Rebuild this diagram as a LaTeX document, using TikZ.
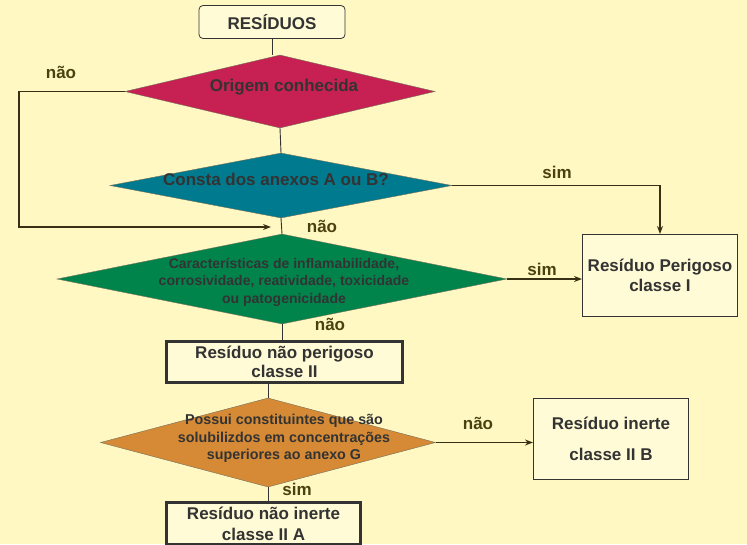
\documentclass[tikz,border=0pt]{standalone}
\usepackage{fontspec}
\setmainfont{Liberation Sans}
\usetikzlibrary{shapes.geometric,arrows.meta}
\definecolor{fundo}{RGB}{255,248,194}
\definecolor{creme}{RGB}{255,251,214}
\definecolor{texto}{RGB}{51,51,51}
\definecolor{linha}{RGB}{55,48,20}
\definecolor{rotulo}{RGB}{75,65,15}
\definecolor{carmim}{RGB}{198,33,82}
\definecolor{petroleo}{RGB}{0,122,142}
\definecolor{verdeesc}{RGB}{0,132,76}
\definecolor{laranja}{RGB}{214,138,53}
% texto dentro dos losangos, sem alterar o tamanho do losango
\newcommand{\dtexto}[3]{\makebox[0pt]{\hspace*{#1}\hspace*{#1}\smash{\raisebox{#2}{\begin{tabular}{@{}c@{}}#3\end{tabular}}}}}
\begin{document}
\begin{tikzpicture}[x=1pt, y=-1pt, >={Stealth[length=8pt,width=6pt]}, text=texto,
  fluxo/.style={draw=linha, line width=1.1pt},
  fino/.style={draw=texto, line width=0.9pt},
  losango/.style={diamond, inner sep=0pt, draw=linha!70, line width=0.4pt},
  caixa/.style={rectangle, draw=texto, line width=1pt, fill=creme, align=center, inner sep=0pt, font=\fontsize{17}{20}\selectfont\bfseries},
  caixagrossa/.style={caixa, line width=3pt},
  rot/.style={text=rotulo, font=\fontsize{17}{20}\selectfont\bfseries}]

% Fundo
\fill[fundo] (0,0) rectangle (747,544);
\useasboundingbox (0,0) rectangle (747,544);

% Início
\node[caixa, rounded corners=4pt, line width=0.8pt, minimum width=146pt, minimum height=33pt,
  font=\fontsize{17}{20}\selectfont\bfseries] (res) at (272,22) {RESÍDUOS};

% Losangos de decisão
\node[losango, fill=carmim, minimum width=310pt, minimum height=73pt,
  font=\fontsize{17}{20}\selectfont\bfseries] (orig) at (280,91.5) {\dtexto{4pt}{0pt}{Origem conhecida}};
\node[losango, fill=petroleo, minimum width=342pt, minimum height=65pt,
  font=\fontsize{17}{20}\selectfont\bfseries] (anex) at (281,185.5) {\dtexto{-5pt}{0pt}{Consta dos anexos A ou B?}};
\node[losango, fill=verdeesc, minimum width=450pt, minimum height=90pt,
  font=\fontsize{14}{17.5}\selectfont\bfseries] (carac) at (282,279)
  {\dtexto{2pt}{-7pt}{Características de inflamabilidade,\\corrosividade, reatividade, toxicidade\\ou patogenicidade}};
\node[losango, fill=laranja, minimum width=335pt, minimum height=89pt,
  font=\fontsize{14.3}{17.5}\selectfont\bfseries] (solub) at (268,442.5)
  {\dtexto{16pt}{0pt}{Possui constituintes que são\\solubilizdos em concentrações\\superiores ao anexo G}};

% Classes
\node[caixa, minimum width=155pt, minimum height=82pt] (perig) at (660,275.5) {Resíduo Perigoso\\classe I};
\node[caixagrossa, minimum width=236pt, minimum height=41pt, font=\fontsize{17}{19}\selectfont\bfseries]
  (naoper) at (284.5,361.5) {Resíduo não perigoso\\classe II};
\node[caixa, minimum width=155pt, minimum height=81pt] (inerte) at (611,439) {Resíduo inerte\\[11pt]classe II B};
\node[caixagrossa, minimum width=194pt, minimum height=42pt, font=\fontsize{17}{21}\selectfont\bfseries]
  (naoin) at (263.5,523.5) {Resíduo não inerte\\classe II A};

% Pontos livres do ramo da esquerda
\coordinate (lft) at (19,227);
\coordinate (mrg) at (271,227);

% Ligações
\draw[fino] (res.south) -- (res.south |- orig.north);
\draw[fino] (orig.south) -- (anex.north);
\draw[fino] (anex.south) -- (carac.north);
\draw[fino] (carac.south) -- (carac.south |- naoper.north);
\draw[fino] (solub.north |- naoper.south) -- (solub.north);
\draw[fino] (solub.south) -- (solub.south |- naoin.north);
\draw[fluxo, ->] (orig.west) -| (lft) -- (mrg);
\draw[fluxo, ->] (anex.east) -| (perig.north);
\draw[fluxo, ->] (carac.east) -- (carac.east -| perig.west);
\draw[fluxo, ->] (solub.east) -- (solub.east -| inerte.west);

% Rótulos sim / não
\node[rot] (nao1) at (61,72) {não};
\node[rot] (sim1) at (557,172) {sim};
\node[rot] (nao2) at (322,226) {não};
\node[rot] (sim2) at (542,269) {sim};
\node[rot] (nao3) at (330,324) {não};
\node[rot] (nao4) at (478,423) {não};
\node[rot] (sim3) at (297,489) {sim};

\end{tikzpicture}
\end{document}
